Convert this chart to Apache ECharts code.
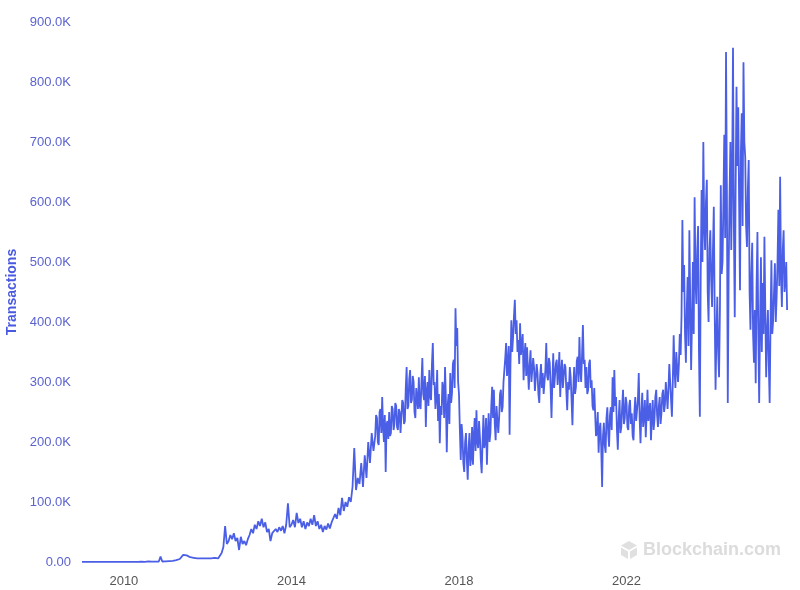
<!DOCTYPE html>
<html><head><meta charset="utf-8">
<script src="https://cdn.jsdelivr.net/npm/echarts@6/dist/echarts.min.js"></script>
<style>html,body{margin:0;padding:0;background:#fff}#c{width:800px;height:590px}</style>
</head><body><div id="c"></div>
<script>
// Confirmed transactions per day (thousands); one array per year.
// 2009-2015: semi-monthly samples; 2016 onward: weekly-ish samples (48 per year).
const startYear = 2009;
const v2009 = [0.1,0.1,0.1,0.1,0.1,0.1,0.1,0.1,0.1,0.1,0.1,0.1,0.1,0.1,0.1,0.1,0.1,0.1,0.2,0.2,0.2,0.2,0.2,0.2];
const v2010 = [0.2,0.2,0.2,0.2,0.3,3,0.3,0.3,0.3,0.4,0.4,0.4,0.3,0.4,1,0.5,0.5,0.6,0.5,0.6,0.8,9,0.8,0.9];
const v2011 = [1,1.2,1.5,1.8,2,2.5,3,4,5,7,12,10,11,9,8,9,7,8,6,7,6,7,6,6];
const v2012 = [6,7,6,5,7,6,6,8,15,25,60,30,35,45,38,48,35,40,20,42,30,35,28,38];
const v2013 = [45,55,48,62,55,68,60,72,58,66,50,55,35,48,45,55,50,58,52,60,48,62,98,58];
const v2014 = [62,70,58,82,65,72,58,68,55,66,60,72,62,78,60,68,55,62,50,60,54,64,56,66];
const v2015 = [68,80,72,90,78,107,85,100,92,108,100,125,190,120,140,130,165,125,178,140,200,165,215,185];
const v2016 = [210,245,240,200,195,250,255,215,275,225,200,245,150,230,235,205,250,210,215,260,255,220,230,265,
               260,225,220,255,250,215,215,270,265,230,235,290,325,255,260,305,320,265,270,310,300,250,240,290];
const v2017 = [290,255,308,260,255,300,340,280,270,310,225,285,300,260,320,275,270,330,365,295,300,255,275,320,
               235,280,198,260,245,300,290,240,325,270,183,260,280,230,315,265,282,330,337,290,423,360,390,300];
const v2018 = [280,220,170,230,210,165,150,200,215,170,137,190,215,160,175,225,162,210,240,185,253,200,190,235,
               208,170,148,200,245,190,200,240,162,215,248,200,215,260,292,240,287,230,203,260,258,215,240,280];
const v2019 = [287,250,258,300,300,340,365,310,332,360,212,330,403,350,375,410,437,380,403,350,370,330,398,345,
               342,380,303,340,365,310,358,320,287,330,353,300,303,340,325,285,287,330,315,280,265,310,330,290];
const v2020 = [315,280,282,320,365,310,303,340,332,290,240,300,348,290,292,330,337,295,315,350,275,315,337,290,
               292,330,325,285,253,300,287,325,308,270,228,290,325,280,292,335,342,300,375,320,300,345,395,330];
const v2021 = [337,290,325,280,287,330,337,290,303,260,253,290,248,210,215,250,182,220,232,190,125,210,232,195,
               182,240,258,215,192,245,258,220,308,250,320,260,275,220,187,240,270,215,225,260,287,230,240,275];
const v2022 = [265,225,220,260,270,230,248,210,203,250,275,235,232,270,315,240,198,250,282,225,242,270,208,245,
               287,235,237,265,203,240,270,220,237,275,287,245,225,260,275,230,248,280,287,250,262,300,280,255];
const v2023 = [287,330,332,270,242,300,378,320,290,350,353,300,330,380,345,410,570,450,495,380,332,420,475,360,
               553,430,320,400,500,380,608,470,430,520,560,350,242,480,620,500,700,560,520,600,637,450,400,520];
const v2024 = [553,470,425,520,592,420,287,380,442,350,308,420,628,480,500,600,712,540,850,620,265,480,608,700,
               520,640,857,560,408,620,792,660,758,600,453,680,748,560,833,700,675,560,525,620,670,450,387,480];
const v2025 = [532,380,332,420,298,460,550,380,265,400,508,350,465,380,542,420,308,380,420,330,265,400,503,380,
               403,450,498,400,442,500,587,460,642,480,425,520,553,450,470,500,420];
const yearValues = [v2009,v2010,v2011,v2012,v2013,v2014,v2015,v2016,v2017,v2018,v2019,v2020,v2021,v2022,v2023,v2024,v2025];
const samplesPerYear = [24,24,24,24,24,24,24,48,48,48,48,48,48,48,48,48,48];
const xTickLabels = ['2010','2014','2018','2022'];

const data = [];
yearValues.forEach((arr, yi) => arr.forEach((v, i) => data.push([startYear + yi + i / samplesPerYear[yi], v])));

const chart = echarts.init(document.getElementById('c'));
chart.setOption({
  animation: false,
  textStyle: { fontFamily: 'Liberation Sans, Arial, sans-serif' },
  grid: { left: 82, right: 8, top: 22, bottom: 28, containLabel: false, outerBoundsMode: 'none' },
  xAxis: {
    type: 'value', min: 2009, max: 2025.95, interval: 1,
    axisLine: { show: false }, axisTick: { show: false }, splitLine: { show: false },
    axisLabel: {
      color: '#555', fontSize: 13, margin: 13, showMaxLabel: false,
      formatter: v => xTickLabels.includes(String(v)) ? String(v) : ''
    }
  },
  yAxis: {
    type: 'value', min: 0, max: 900, interval: 100,
    name: 'Transactions', nameLocation: 'middle', nameGap: 61,
    nameTextStyle: { color: '#4a5ae0', fontWeight: 'bold', fontSize: 14 },
    axisLine: { show: false }, axisTick: { show: false }, splitLine: { show: false },
    axisLabel: {
      color: '#5b63cf', fontSize: 13, margin: 11,
      formatter: v => v === 0 ? '0.00' : v.toFixed(1) + 'K'
    }
  },
  series: [{
    type: 'line', data: data, showSymbol: false, symbol: 'none',
    lineStyle: { color: '#4a5ee6', width: 1.8 }
  }],
  graphic: [
    { type: 'polygon', shape: { points: [[629,541],[637,545.5],[629,550],[621,545.5]] }, style: { fill: '#e0e0e0' } },
    { type: 'polygon', shape: { points: [[621,547.5],[628,551.5],[628,559],[621,555]] }, style: { fill: '#e0e0e0' } },
    { type: 'polygon', shape: { points: [[630,551.5],[637,547.5],[637,555],[630,559]] }, style: { fill: '#e0e0e0' } },
    { type: 'text', left: 643, top: 541, style: { text: 'Blockchain.com', fill: '#dcdcdc', font: 'bold 18px Liberation Sans, Arial, sans-serif' } }
  ]
});
</script>
</body></html>
